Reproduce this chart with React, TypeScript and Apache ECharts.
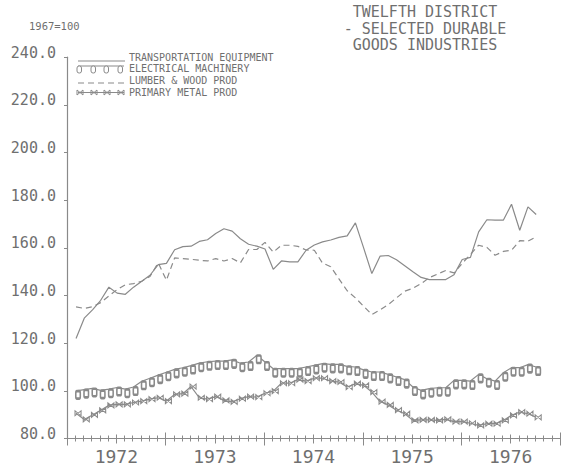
import React, { useEffect, useRef } from "react";
import * as echarts from "echarts";

// Monthly index counted from Jan 1972 (0); first plotted month is Feb 1972.
const startMonth = 1;
const yearLabels = ["1972", "1973", "1974", "1975", "1976"];
const firstYear = 1972;

const transportation = [
  122, 130.5, 134, 138, 143.5, 141, 140.5, 143.5, 146, 148.5,
  153, 153.5, 159.2, 160.5, 160.7, 162.7, 163.4, 166, 168, 167,
  163.8, 161.5, 160.7, 159.5, 151, 154.5, 154.1, 154.1, 159, 161.2,
  162.5, 163.3, 164.4, 165, 170.5, 160, 149.2, 156.5, 156.8, 155,
  152.5, 150, 147.6, 146.7, 146.7, 146.7, 148.7, 155.1, 156, 166.7,
  171.8, 171.6, 171.6, 178.3, 167.4, 177.2, 174,
];
const electrical = [
  100.0, 100.5, 101.0, 100.2, 100.7, 101.4, 100.7, 101.6, 104.0, 105.3,
  106.6, 107.8, 109.0, 109.7, 110.6, 111.6, 112.2, 112.5, 112.5, 113.0,
  111.6, 112.1, 114.9, 112.1, 109.3, 109.3, 109.3, 109.3, 110.0, 110.7,
  111.4, 111.1, 111.1, 110.3, 110.0, 108.8, 107.9, 107.9, 106.9, 105.8,
  104.7, 101.6, 100.2, 100.9, 101.3, 101.3, 104.4, 104.4, 104.1, 106.9,
  105.1, 104.1, 107.6, 109.7, 109.7, 111.0, 110.0,
];
const lumber = [
  135.2, 134.6, 135.3, 137, 139.8, 142.5, 144.5, 145, 146, 148,
  153.7, 146.4, 155.8, 155.5, 155.2, 154.8, 154.5, 155.5, 154.5, 155.5,
  153.7, 159.3, 159.3, 162.3, 158.2, 161.1, 161.1, 160.6, 159.1, 159,
  153.6, 152.1, 147, 142, 139, 135.5, 132, 134, 136.2, 139,
  141.8, 143, 145, 147.5, 149, 150.5, 149.5, 153.5, 157.2, 161.1,
  160.2, 156.9, 158.5, 159, 163, 162.8, 164.6,
];
const metal = [
  90.6, 88.0, 89.9, 91.8, 93.9, 94.3, 94.3, 95.1, 95.7, 96.5,
  97.1, 95.7, 98.5, 98.8, 101.8, 97.1, 96.5, 97.6, 96.0, 95.4,
  96.7, 97.6, 97.4, 99.0, 99.9, 103.2, 103.2, 104.7, 104.1, 105.3,
  105.3, 104.1, 103.7, 101.6, 103.0, 102.3, 99.5, 95.5, 94.1, 91.9,
  90.4, 87.6, 87.8, 87.8, 87.6, 88.0, 87.1, 87.1, 86.4, 85.5,
  86.2, 86.2, 87.6, 89.7, 91.1, 90.4, 88.9,
];

const seriesNames = [
  "TRANSPORTATION EQUIPMENT",
  "ELECTRICAL MACHINERY",
  "LUMBER & WOOD PROD",
  "PRIMARY METAL PROD",
];
const titleLines = ["TWELFTH DISTRICT", "- SELECTED DURABLE", "GOODS INDUSTRIES"];
const baseNote = "1967=100";

const LINE = "#8a8a8a";
const TEXT = "#6f6f6f";
const FONT = "DejaVu Sans Mono";
const BOWTIE = "path://M0,0L10,10L10,0L0,10Z";

const pairs = (vals: number[]) => vals.map((v, k) => [startMonth + k + 0.1, v]);

function tickAxis(interval: number, inside: boolean, length: number, extra: any = {}) {
  return {
    type: "value",
    position: "bottom",
    min: 0,
    max: 60,
    interval,
    axisLine: { show: false, onZero: false },
    axisTick: { show: true, inside, length, lineStyle: { color: LINE, width: 1 } },
    axisLabel: { show: false },
    splitLine: { show: false },
    ...extra,
  };
}

export default function App() {
  const ref = useRef<HTMLDivElement>(null);
  useEffect(() => {
    if (!ref.current) return;
    const chart = echarts.init(ref.current, undefined, { renderer: "svg" });
    const lx0 = 78;
    const lx1 = 125;
    const legendText = (y: number, t: string) => ({
      type: "text",
      x: 129,
      y,
      style: { text: t, fill: TEXT, font: `10px '${FONT}'`, verticalAlign: "middle", align: "left" },
    });
    const symXs = [77, 91, 104, 118];
    const graphic: any[] = [
      {
        type: "text",
        x: 425,
        y: 4,
        style: {
          text: titleLines.join("\n"),
          fill: TEXT,
          font: `15px '${FONT}'`,
          lineHeight: 16.5,
          align: "center",
          verticalAlign: "top",
        },
      },
      {
        type: "text",
        x: 29,
        y: 26,
        style: { text: baseNote, fill: TEXT, font: `10.5px '${FONT}'`, verticalAlign: "middle" },
      },
      // legend row 1
      { type: "line", shape: { x1: lx0, y1: 61, x2: lx1, y2: 61 }, style: { stroke: LINE, lineWidth: 1.2 } },
      legendText(57, seriesNames[0]),
      // legend row 2
      { type: "line", shape: { x1: lx0, y1: 66, x2: lx1 - 1, y2: 66 }, style: { stroke: LINE, lineWidth: 1.2 } },
      ...symXs.map((x) => ({
        type: "rect",
        shape: { x, y: 66, width: 4.5, height: 7, r: 2 },
        style: { stroke: LINE, fill: "#fff", lineWidth: 1 },
      })),
      legendText(68.7, seriesNames[1]),
      // legend row 3
      {
        type: "line",
        shape: { x1: lx0, y1: 83, x2: lx1, y2: 83 },
        style: { stroke: LINE, lineWidth: 1.2, lineDash: [6, 4] },
      },
      legendText(80.4, seriesNames[2]),
      // legend row 4
      { type: "line", shape: { x1: lx0, y1: 92.5, x2: lx1 - 1, y2: 92.5 }, style: { stroke: LINE, lineWidth: 1.2 } },
      ...symXs.map((x) => ({
        type: "polygon",
        shape: { points: [[x, 90], [x + 6, 95], [x + 6, 90], [x, 95]] },
        style: { stroke: LINE, fill: "none", lineWidth: 1 },
      })),
      legendText(92.1, seriesNames[3]),
    ];

    const option: any = {
      animation: false,
      backgroundColor: "#ffffff",
      grid: { left: 67, right: 1, top: 57.2, bottom: 29.5, containLabel: false, outerBoundsMode: "none" },
      xAxis: [
        {
          type: "value",
          position: "bottom",
          min: 0,
          max: 60,
          interval: 1,
          axisLine: { show: true, onZero: false, lineStyle: { color: LINE, width: 1.2 } },
          axisTick: { show: true, inside: false, length: 3, lineStyle: { color: LINE } },
          axisLabel: { show: false },
          splitLine: { show: false },
        },
        tickAxis(1, true, 3),
        tickAxis(6, false, 5),
        tickAxis(6, true, 4),
        tickAxis(12, false, 7),
        tickAxis(12, true, 6),
        tickAxis(6, false, 0, {
          axisTick: { show: false },
          axisLabel: {
            show: true,
            margin: 9,
            color: TEXT,
            fontFamily: FONT,
            fontSize: 18,
            formatter: (v: number) => (v % 12 === 6 ? yearLabels[(v - 6) / 12] ?? String(firstYear + (v - 6) / 12) : ""),
          },
        }),
      ],
      yAxis: {
        type: "value",
        min: 80,
        max: 240,
        interval: 20,
        axisLine: { show: true, onZero: false, lineStyle: { color: LINE, width: 1.2 } },
        axisTick: { show: true, length: 3, lineStyle: { color: LINE } },
        axisLabel: {
          color: TEXT,
          fontFamily: FONT,
          fontSize: 15,
          margin: 11,
          verticalAlign: "bottom",
          lineHeight: 9,
          formatter: (v: number) => v.toFixed(1),
        },
        splitLine: { show: false },
      },
      graphic,
      series: [
        {
          name: seriesNames[0],
          type: "line",
          data: pairs(transportation),
          symbol: "none",
          lineStyle: { color: LINE, width: 1.2 },
        },
        {
          name: seriesNames[1],
          type: "line",
          data: pairs(electrical),
          symbol: "emptyRoundRect",
          symbolSize: [4.5, 7.5],
          symbolOffset: [2, 4],
          itemStyle: { color: LINE, borderColor: LINE, borderWidth: 1 },
          lineStyle: { color: LINE, width: 1.2 },
        },
        {
          name: seriesNames[2],
          type: "line",
          data: pairs(lumber),
          symbol: "none",
          lineStyle: { color: LINE, width: 1.2, type: [6, 4] },
        },
        {
          name: seriesNames[3],
          type: "line",
          data: pairs(metal),
          symbol: BOWTIE,
          symbolSize: [6, 5],
          symbolOffset: [2, 0],
          itemStyle: { color: "none", borderColor: LINE, borderWidth: 1 },
          lineStyle: { color: LINE, width: 1.2 },
        },
      ],
    };
    chart.setOption(option);
    return () => chart.dispose();
  }, []);
  return (
    <div
      ref={ref}
      style={{ position: "fixed", left: 0, top: 0, width: 561, height: 468, background: "#fff" }}
    />
  );
}
